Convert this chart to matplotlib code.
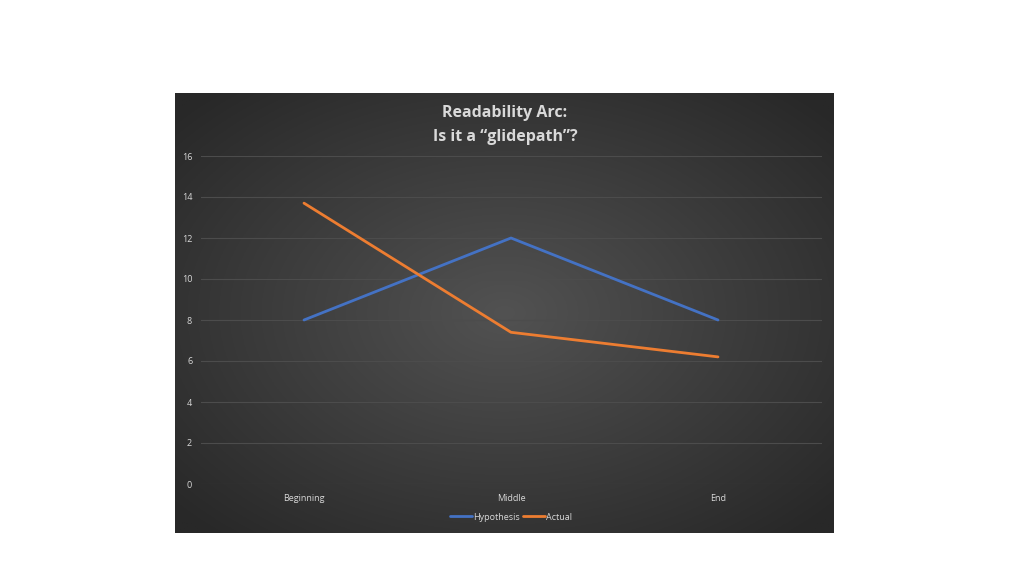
import matplotlib
matplotlib.use('Agg')
import matplotlib.pyplot as plt
import numpy as np

categories = ['Beginning', 'Middle', 'End']
hypothesis = [8, 12, 8]
actual = [13.7, 7.4, 6.2]
y_ticks = [0, 2, 4, 6, 8, 10, 12, 14, 16]
title = 'Readability Arc:\nIs it a \u201cglidepath\u201d?'

plt.rcParams['font.family'] = ['Open Sans', 'DejaVu Sans']
text_col = '#D9D9D9'

fig = plt.figure(figsize=(10.24, 5.76), dpi=100)
fig.patch.set_facecolor('white')

# chart area with radial gradient
bg = fig.add_axes([175 / 1024, 1 - 533 / 576, 659 / 1024, 440 / 576])
bg.set_axis_off()
gx, gy = np.meshgrid(np.linspace(-1, 1, 400), np.linspace(-1, 1, 300))
r = np.clip(np.sqrt(gx ** 2 + gy ** 2) / 1.35, 0, 1)
center = np.array([0x52, 0x52, 0x52]) / 255
edge = np.array([0x28, 0x28, 0x28]) / 255
img = center[None, None, :] * (1 - r[..., None]) + edge[None, None, :] * r[..., None]
bg.imshow(img, aspect='auto', extent=[0, 1, 0, 1])
bg.set_xlim(0, 1)
bg.set_ylim(0, 1)

ax = fig.add_axes([200.5 / 1024, 1 - 484 / 576, 621 / 1024, 328 / 576])
ax.set_facecolor('none')
x = np.arange(len(categories))
ax.plot(x, hypothesis, color='#4472C4', lw=2.0, label='Hypothesis', solid_capstyle='round')
ax.plot(x, actual, color='#ED7D31', lw=2.0, label='Actual', solid_capstyle='round')

ax.set_xlim(-0.5, len(categories) - 0.5)
ax.set_ylim(0, 16)
ax.set_yticks(y_ticks)
ax.set_xticks(x)
ax.set_xticklabels(categories)
ax.grid(axis='y', color='#4C4C4C', lw=0.8)
ax.set_axisbelow(True)
for s in ax.spines.values():
    s.set_visible(False)
ax.tick_params(axis='both', length=0, colors=text_col, labelsize=6.5)
ax.tick_params(axis='y', pad=6)
ax.tick_params(axis='x', pad=7)

fig.text(505 / 1024, 1 - 125 / 576, title, ha='center', va='center', color=text_col,
         fontsize=11.5, fontweight='bold', linespacing=1.6)

leg = ax.legend(loc='center', bbox_to_anchor=(0.5, 1 - (517 - 156) / 328), ncol=2,
                frameon=False, fontsize=6.5, handlelength=2.4, handletextpad=0.1,
                columnspacing=0.4, labelcolor=text_col)

fig.savefig('out.png', dpi=100, facecolor='white')
